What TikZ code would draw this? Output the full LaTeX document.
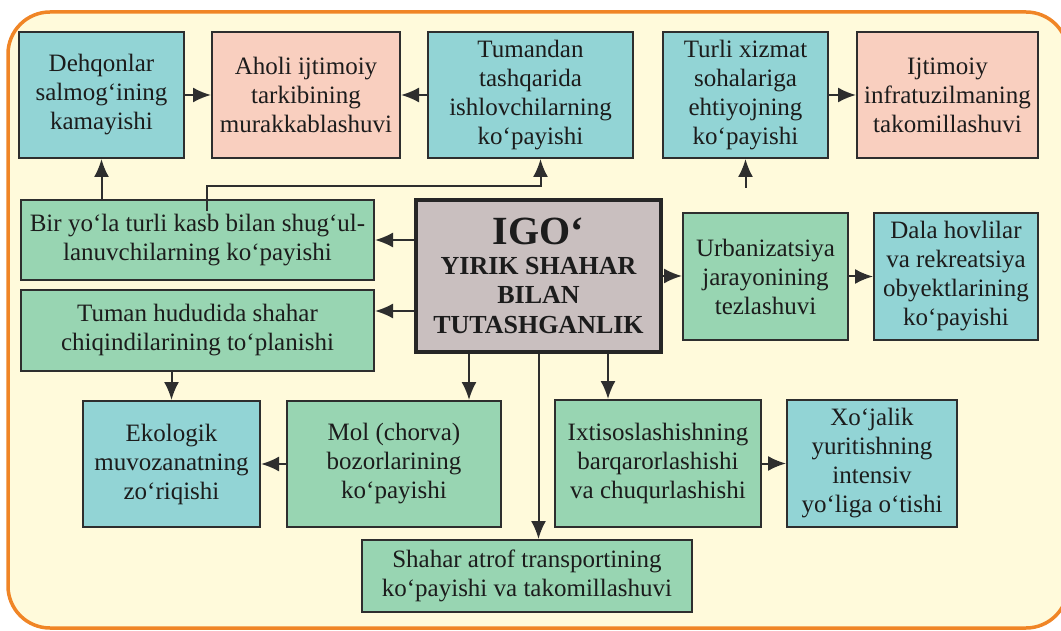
\documentclass[tikz,border=0pt]{standalone}
\usepackage{fontspec}
\setmainfont{Liberation Serif}
\usepackage{xcolor}
\usepackage{tikz}
\usetikzlibrary{calc,arrows.meta}
\definecolor{tealc}{HTML}{92D4D5}
\definecolor{pinkc}{HTML}{F9CFBF}
\definecolor{greenc}{HTML}{98D5B2}
\definecolor{greyc}{HTML}{C9BFBF}
\definecolor{paperc}{HTML}{FFFADB}
\definecolor{framec}{HTML}{F08526}
\definecolor{linec}{HTML}{2E2E2E}
\definecolor{inkc}{HTML}{1C1C1C}

\begin{document}
\begin{tikzpicture}[x=1pt, y=-1pt,
  blk/.style={draw=linec, line width=2pt, align=center, inner sep=0pt, text=inkc,
    font=\fontsize{25}{29}\selectfont},
  arr/.style={draw=linec, line width=2pt, -{Latex[length=18pt,width=15pt]}}]
 \useasboundingbox (0,0) rectangle (1061,631);
 \draw[framec, line width=3.5pt, fill=paperc, rounded corners=42pt] (8,12) rectangle (1068,628);
 % top row
 \node[blk, fill=tealc, minimum width=165pt, minimum height=126pt] (dehq) at (101.5,95) {Dehqonlar\\salmog‘ining\\kamayishi};
 \node[blk, fill=pinkc, minimum width=188pt, minimum height=126pt] (aholi) at (306,95) {Aholi ijtimoiy\\tarkibining\\murakkablashuvi};
 \node[blk, fill=tealc, minimum width=205pt, minimum height=126pt] (tumandan) at (530.5,95) {Tumandan\\tashqarida\\ishlovchilarning\\ko‘payishi};
 \node[blk, fill=tealc, minimum width=165pt, minimum height=126pt] (turli) at (745.5,95) {Turli xizmat\\sohalariga\\ehtiyojning\\ko‘payishi};
 \node[blk, fill=pinkc, minimum width=181pt, minimum height=126pt] (ijtim) at (947.5,95) {Ijtimoiy\\infratuzilmaning\\takomillashuvi};
 % middle
 \node[blk, fill=greenc, minimum width=353pt, minimum height=80pt] (biryola) at (197.5,240) {Bir yo‘la turli kasb bilan shug‘ul-\\lanuvchilarning ko‘payishi};
 \node[blk, fill=greenc, minimum width=353pt, minimum height=81pt] (chiqindi) at (197.5,330.5) {Tuman hududida shahar\\chiqindilarining to‘planishi};
 \node[blk, fill=greyc, draw=black!85, line width=3.5pt, minimum width=245pt, minimum height=152pt,
   font=\fontsize{26}{29.5}\selectfont\bfseries] (igo) at (538.5,276) {{\fontsize{40}{40}\selectfont IGO‘}\\YIRIK SHAHAR\\BILAN\\TUTASHGANLIK};
 \node[blk, fill=greenc, minimum width=165pt, minimum height=127pt] (urban) at (765.5,276.5) {Urbanizatsiya\\jarayonining\\tezlashuvi};
 \node[blk, fill=tealc, minimum width=164pt, minimum height=127pt] (dala) at (956,276.5) {Dala hovlilar\\va rekreatsiya\\obyektlarining\\ko‘payishi};
 % bottom rows
 \node[blk, fill=tealc, minimum width=177pt, minimum height=126pt] (ekolog) at (171.5,464) {Ekologik\\muvozanatning\\zo‘riqishi};
 \node[blk, fill=greenc, minimum width=214pt, minimum height=126pt] (mol) at (394,464) {Mol (chorva)\\bozorlarining\\ko‘payishi};
 \node[blk, fill=greenc, minimum width=206pt, minimum height=127pt] (ixtis) at (658,463.5) {Ixtisoslashishning\\barqarorlashishi\\va chuqurlashishi};
 \node[blk, fill=tealc, minimum width=170pt, minimum height=127pt] (xojalik) at (872,463.5) {Xo‘jalik\\yuritishning\\intensiv\\yo‘liga o‘tishi};
 \node[blk, fill=greenc, minimum width=330pt, minimum height=72pt] (transport) at (527,576) {Shahar atrof transportining\\ko‘payishi va takomillashuvi};
 \coordinate (turliin) at ([yshift=-29pt]turli.south);
 % connectors
 \foreach \a/\b in {dehq.east/aholi.west, tumandan.west/aholi.east, turli.east/ijtim.west,
   urban.east/dala.west, mol.west/ekolog.east, ixtis.east/xojalik.west, turliin/turli.south}
   \draw[arr] (\a) -- (\b);
 \draw[arr] (biryola.north -| dehq.south) -- (dehq.south);
 \draw[arr] ([xshift=9pt,yshift=-12pt]biryola.north) -- ++(0,-25) -| ([xshift=10pt]tumandan.south);
 \draw[arr] (igo.west |- biryola.east) -- (biryola.east);
 \draw[arr] (igo.west |- 0,311) -- (chiqindi.east |- 0,311);
 \draw[arr] (igo.east) -- (igo.east -| urban.west);
 \draw[arr] (igo.south -| 469,0) -- (mol.north -| 469,0);
 \draw[arr] (igo.south) -- (igo.south |- transport.north);
 \draw[arr] (igo.south -| 608,0) -- (ixtis.north -| 608,0);
 \draw[arr] (ekolog.north |- chiqindi.south) -- (ekolog.north);
\end{tikzpicture}
\end{document}
